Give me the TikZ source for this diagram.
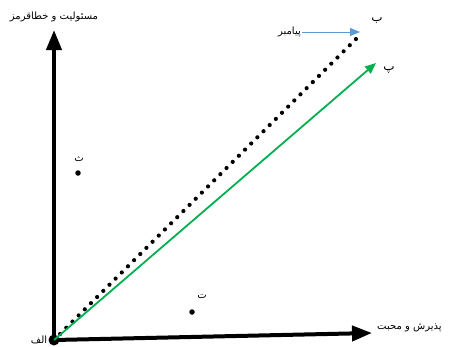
\documentclass[tikz,border=0pt]{standalone}
\usepackage{fontspec}
\newfontfamily\farsi[Script=Arabic]{DejaVu Sans}
\TeXXeTstate=1
\usetikzlibrary{arrows.meta, positioning}

\definecolor{officegreen}{RGB}{0,176,80}
\definecolor{officeblue}{RGB}{91,155,213}

\newcommand{\fa}[1]{{\farsi\beginR #1\endR}}

\begin{document}
\begin{tikzpicture}[x=1pt, y=-1pt,
  axis/.style={line width=4pt, -{Triangle[length=20pt, width=15pt]}},
  pt/.style={circle, fill, inner sep=0pt, minimum size=5.5pt},
  lbl/.style={font=\fontsize{10}{12}\selectfont, inner sep=1pt},
  dots/.style={line width=4.2pt, line cap=round, dash pattern=on 0pt off 8.7pt},
  greenarrow/.style={draw=officegreen, line width=1.8pt, -{Triangle[length=11pt, width=9pt]}},
  bluearrow/.style={draw=officeblue, line width=0.9pt, -{Triangle[length=10pt, width=8pt]}}
]
  \useasboundingbox (0,0) rectangle (462,346);

  % axes
  \node[circle, fill, inner sep=0pt, minimum size=11pt] (O) at (54,340) {};
  \coordinate (Y) at (54,30);
  \coordinate (X) at (372,333);
  \draw[axis] (O.center) -- (Y);
  \draw[axis] (O.center) -- (X);
  \node[lbl, left=0pt of O] (alef) {\fa{الف}};
  \node[lbl] (ylabel) at (54,17) {\fa{مسئولیت و خطاقرمز}};
  \node[lbl, anchor=west] (xlabel) at (376,328) {\fa{پذیرش و محبت}};

  % lines from the origin
  \coordinate (B) at (360,35);
  \coordinate (P) at (376,63);
  \draw[dots] (O.center) -- (B);
  \draw[greenarrow] (O.center) -- (P);
  \node[lbl, font=\fontsize{12}{14}\selectfont] (be) at (377,21) {\fa{ب}};
  \node[lbl, font=\fontsize{12}{14}\selectfont] (pe) at (389,70) {\fa{پ}};

  % prophet
  \node[lbl, anchor=east] (prophet) at (302,32) {\fa{پیامبر}};
  \coordinate (Bt) at (360,32);
  \draw[bluearrow] (prophet.east) -- (Bt);

  % points
  \node[pt] (th) at (78,173) {};
  \node[lbl] (thlabel) at (79,159) {\fa{ث}};
  \node[pt] (te) at (192,312) {};
  \node[lbl] (telabel) at (202,297) {\fa{ت}};
\end{tikzpicture}
\end{document}
